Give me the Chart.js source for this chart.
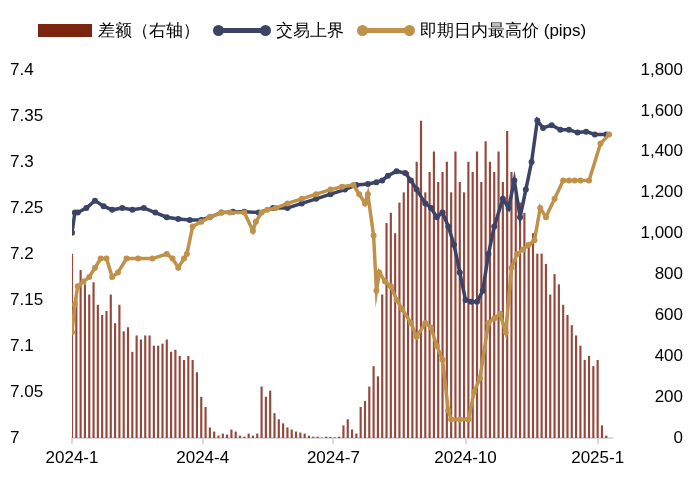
<!DOCTYPE html>
<html><head><meta charset="utf-8">
<script src="https://cdn.jsdelivr.net/npm/chart.js@4/dist/chart.umd.min.js"></script>
<style>
body{margin:0;background:#fff;font-family:"Liberation Sans",Arial,sans-serif}
#wrap{position:relative;width:697px;height:483px}
#leg{position:absolute;top:19px;left:38px;display:flex;align-items:center;font-size:17px;color:#000;white-space:nowrap}
.it{display:flex;align-items:center;margin-right:16px}
.box{width:54px;height:13px;background:#7B2410;margin-right:6px}
.ln{position:relative;width:52px;height:5px;margin-right:8px}
.ln span{position:absolute;top:-3px;width:11px;height:11px;border-radius:50%}
</style></head><body>
<div id="wrap">
<canvas id="c" width="697" height="483"></canvas>
<div id="leg">
<div class="it"><div class="box"></div>差额（右轴）</div>
<div class="it"><div class="ln" style="background:#3B4466"><span style="left:-3px;background:#3B4466"></span><span style="right:-3px;background:#3B4466"></span></div>交易上界</div>
<div class="it"><div class="ln" style="background:#C0914A"><span style="left:-3px;background:#C0914A"></span><span style="right:-3px;background:#C0914A"></span></div>即期日内最高价 (pips)</div>
</div>
</div>
<script>
const tickDays=[0,91,182,274,366];
const tickLabels=["2024-1","2024-4","2024-7","2024-10","2025-1"];
const upperDays=[0,2,4,10,16,22,28,35,42,50,58,66,74,82,90,96,104,112,120,130,140,150,160,170,180,190,198,206,212,216,220,226,232,236,240,246,250,254,258,262,266,270,274,278,282,286,290,294,300,304,308,312,316,320,324,328,334,340,346,352,358,364,372];
const upperVals=[7.223,7.245,7.245,7.25,7.258,7.252,7.248,7.25,7.248,7.25,7.245,7.24,7.238,7.237,7.237,7.24,7.245,7.246,7.246,7.245,7.25,7.25,7.255,7.26,7.265,7.27,7.275,7.276,7.278,7.28,7.285,7.29,7.288,7.28,7.27,7.255,7.25,7.24,7.245,7.23,7.21,7.18,7.15,7.148,7.148,7.16,7.2,7.23,7.26,7.25,7.28,7.24,7.27,7.3,7.345,7.337,7.34,7.335,7.335,7.332,7.333,7.33,7.33];
const highDays=[0,2,4,8,12,16,20,24,28,32,38,46,56,66,70,74,78,80,84,90,96,104,110,120,126,128,132,136,142,150,160,170,180,188,196,200,204,206,210,212,214,218,222,226,230,236,240,246,250,254,258,262,264,270,276,280,284,290,294,298,302,306,310,314,318,322,326,330,336,342,346,350,354,360,368,374];
const highVals=[7.115,7.145,7.165,7.17,7.175,7.185,7.195,7.195,7.175,7.18,7.195,7.195,7.195,7.2,7.195,7.185,7.195,7.2,7.23,7.235,7.24,7.245,7.245,7.245,7.225,7.235,7.245,7.248,7.25,7.255,7.26,7.265,7.27,7.273,7.275,7.265,7.255,7.265,7.22,7.16,7.18,7.17,7.165,7.15,7.14,7.125,7.11,7.125,7.12,7.1,7.085,7.03,7.02,7.02,7.02,7.05,7.065,7.125,7.13,7.135,7.115,7.185,7.2,7.205,7.21,7.215,7.25,7.24,7.26,7.28,7.28,7.28,7.28,7.28,7.32,7.33];
const diffVals=[900,700,820,750,700,760,650,600,620,700,560,650,520,540,420,500,480,500,500,450,450,460,480,420,430,400,380,400,380,320,200,150,50,30,10,20,15,40,30,10,5,20,10,20,250,200,230,120,90,70,50,40,30,25,20,10,5,5,0,5,3,2,5,60,90,40,20,150,180,250,350,300,700,1050,1100,1000,1150,1200,1300,1250,1350,1550,1200,1300,1400,1250,1300,1350,1200,1400,1250,1200,1350,1300,1400,1250,1450,1350,1300,1400,1250,1500,1300,1200,1150,1100,950,1000,900,900,850,700,800,750,650,600,550,500,450,380,400,350,380,60,10];
const pts=(d,v)=>d.map((x,i)=>({x,y:v[i]}));
const barPts=diffVals.map((v,i)=>({x:i*3,y:v}));
const fnt={family:"Liberation Sans, Arial",size:17};
new Chart(document.getElementById('c'),{
 data:{datasets:[
  {type:'line',data:pts(highDays,highVals),yAxisID:'y',borderColor:'#C0914A',backgroundColor:'#C0914A',borderWidth:3.5,pointRadius:3,pointBorderWidth:0,order:1},
  {type:'line',data:pts(upperDays,upperVals),yAxisID:'y',borderColor:'#3B4466',backgroundColor:'#3B4466',borderWidth:3.5,pointRadius:3,pointBorderWidth:0,order:2},
  {type:'bar',data:barPts,yAxisID:'y1',backgroundColor:'#94493C',barThickness:1.5,order:3}
 ]},
 options:{responsive:false,animation:false,
  layout:{padding:{top:70,right:14,left:10,bottom:0}},
  plugins:{legend:{display:false},tooltip:{enabled:false}},
  scales:{
   x:{type:'linear',min:0,max:376,offset:false,
     afterBuildTicks(s){s.ticks=tickDays.map(v=>({value:v}));},
     afterFit(s){s.height=45;},
     ticks:{font:fnt,color:'#000',autoSkip:false,maxRotation:0,padding:4,callback:(v)=>tickLabels[tickDays.indexOf(v)]},
     grid:{drawOnChartArea:false,offset:false,tickLength:6,color:'#d9d9d9',lineWidth:2},
     border:{color:'#d9d9d9',width:2}},
   y:{position:'left',min:7,max:7.4,afterFit(s){s.width=62;},
     ticks:{stepSize:0.05,font:fnt,color:'#000',crossAlign:'far',padding:10,callback:v=>String(+v.toFixed(2))},
     grid:{display:false},border:{display:false}},
   y1:{position:'right',min:0,max:1800,afterFit(s){s.width=71;},
     ticks:{stepSize:200,font:fnt,color:'#000',crossAlign:'far',padding:10,callback:v=>v.toLocaleString('en-US')},
     grid:{display:false},border:{display:false}}
  }}
});
</script>
</body></html>
